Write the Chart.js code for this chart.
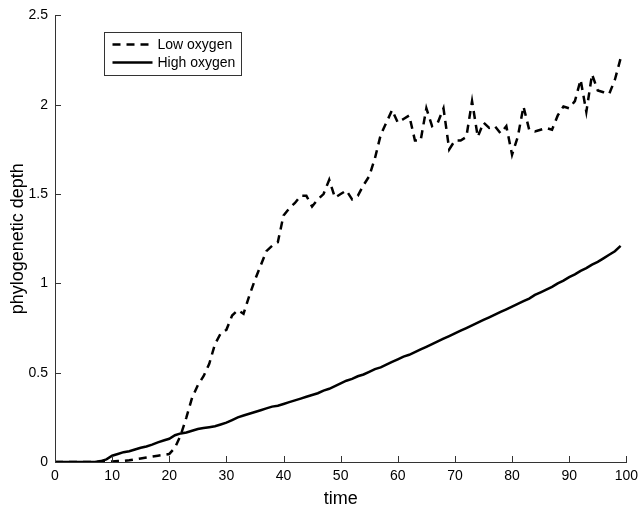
<!DOCTYPE html>
<html lang="en">
<head>
  <meta charset="UTF-8" />
  <title>Phylogenetic depth over time</title>
  <script src="https://cdn.jsdelivr.net/npm/chart.js"></script>
  <style>
    html,body{margin:0;padding:0;background:#fff;}
    #wrap{width:644px;height:510px;position:relative;}
  </style>
</head>
<body>
<div id="wrap"><canvas id="depthChart"></canvas></div>
<script>
  // time steps 0..99
  const times=[0,1,2,3,4,5,6,7,8,9,10,11,12,13,14,15,16,17,18,19,20,21,22,23,24,25,26,27,28,29,30,31,32,33,34,35,36,37,38,39,40,41,42,43,44,45,46,47,48,49,50,51,52,53,54,55,56,57,58,59,60,61,62,63,64,65,66,67,68,69,70,71,72,73,74,75,76,77,78,79,80,81,82,83,84,85,86,87,88,89,90,91,92,93,94,95,96,97,98,99];
  const lowOxygen=[0,0,0,0,0,0,0,0,0,0,
    0.003,0.005,0.006,0.01,0.015,0.02,0.025,0.03,0.035,0.04,
    0.045,0.08,0.15,0.25,0.36,0.43,0.48,0.55,0.66,0.72,
    0.74,0.82,0.85,0.83,0.93,1.02,1.1,1.18,1.21,1.23,
    1.38,1.42,1.45,1.49,1.49,1.43,1.47,1.5,1.58,1.48,
    1.5,1.52,1.47,1.49,1.55,1.6,1.7,1.83,1.9,1.97,
    1.9,1.92,1.94,1.8,1.8,1.98,1.88,1.9,1.98,1.75,
    1.8,1.8,1.82,2.02,1.82,1.9,1.87,1.88,1.84,1.88,
    1.72,1.82,1.99,1.86,1.85,1.86,1.87,1.86,1.94,1.99,
    1.98,2.02,2.14,1.96,2.17,2.08,2.07,2.06,2.14,2.26];
  const highOxygen=[0,0,0,0,0,0,0,0,0.005,0.015,
    0.035,0.045,0.055,0.06,0.07,0.08,0.087,0.097,0.11,0.12,
    0.13,0.15,0.16,0.165,0.175,0.185,0.19,0.195,0.2,0.21,
    0.22,0.235,0.25,0.26,0.27,0.28,0.29,0.3,0.31,0.315,
    0.325,0.335,0.345,0.355,0.365,0.375,0.385,0.4,0.41,0.425,
    0.44,0.455,0.465,0.48,0.49,0.505,0.52,0.53,0.545,0.56,
    0.575,0.59,0.6,0.615,0.63,0.645,0.66,0.675,0.69,0.705,
    0.72,0.735,0.75,0.765,0.78,0.795,0.81,0.825,0.84,0.855,
    0.87,0.885,0.9,0.915,0.935,0.95,0.965,0.98,1.0,1.015,
    1.035,1.05,1.07,1.085,1.105,1.12,1.14,1.16,1.18,1.21];
  const xTicks=[0,10,20,30,40,50,60,70,80,90,100];
  const yTicks=[0,0.5,1,1.5,2,2.5];
  const yTickLabels=['0','0.5','1','1.5','2','2.5'];
  const seriesNames=['Low oxygen','High oxygen'];

  const FONT='"Liberation Sans", Arial, Helvetica, sans-serif';
  const DASH=[8,6];

  // matlab-style inward tick marks
  const inwardTicks={
    id:'inwardTicks',
    afterDatasetsDraw(chart){
      const {ctx,chartArea:a,scales:{x,y}}=chart;
      ctx.save();ctx.strokeStyle='#333';ctx.lineWidth=1;ctx.beginPath();
      xTicks.forEach(v=>{const px=Math.round(x.getPixelForValue(v))+.5;ctx.moveTo(px,a.bottom);ctx.lineTo(px,a.bottom-6);});
      yTicks.forEach(v=>{const py=Math.round(y.getPixelForValue(v))+.5;ctx.moveTo(a.left,py);ctx.lineTo(a.left+6,py);});
      ctx.stroke();ctx.restore();
    }
  };

  // legend box inside the axes, top-left
  const boxLegend={
    id:'boxLegend',
    afterDraw(chart){
      const {ctx}=chart;
      const bx=104.5,by=32.5,bw=137,bh=43;
      ctx.save();
      ctx.fillStyle='#fff';ctx.fillRect(bx,by,bw,bh);
      ctx.strokeStyle='#333';ctx.lineWidth=1;ctx.strokeRect(bx,by,bw,bh);
      ctx.font='14px '+FONT;ctx.textBaseline='middle';
      chart.data.datasets.forEach((ds,i)=>{
        const ly=by+12+i*18;
        ctx.strokeStyle='#000';ctx.lineWidth=2.5;ctx.setLineDash(ds.borderDash||[]);
        ctx.beginPath();ctx.moveTo(bx+8,ly);ctx.lineTo(bx+48,ly);ctx.stroke();
        ctx.setLineDash([]);ctx.fillStyle='#000';ctx.fillText(ds.label,bx+53,ly+1);
      });
      ctx.restore();
    }
  };

  new Chart(document.getElementById('depthChart'),{
    type:'line',
    data:{datasets:[
      {label:seriesNames[0],data:times.map((t,i)=>({x:t,y:lowOxygen[i]})),borderColor:'#000',borderWidth:2.5,borderDash:DASH,pointRadius:0,tension:0,fill:false},
      {label:seriesNames[1],data:times.map((t,i)=>({x:t,y:highOxygen[i]})),borderColor:'#000',borderWidth:2.5,pointRadius:0,tension:0,fill:false}
    ]},
    options:{
      responsive:true,maintainAspectRatio:false,animation:false,
      layout:{padding:{top:10,right:17,left:0,bottom:0}},
      plugins:{legend:{display:false},tooltip:{enabled:false}},
      scales:{
        x:{type:'linear',min:0,max:100,
          afterBuildTicks(s){s.ticks=xTicks.map(v=>({value:v}));},
          afterFit(s){s.height=48;},
          grid:{display:true,drawOnChartArea:false,drawTicks:false},
          border:{color:'#333',width:1},
          ticks:{padding:6,color:'#000',font:{family:FONT,size:14},maxRotation:0},
          title:{display:true,text:'time',color:'#000',font:{family:FONT,size:18},padding:{top:0,bottom:0}}},
        y:{min:0,max:2.5,
          afterBuildTicks(s){s.ticks=yTicks.map(v=>({value:v}));},
          afterFit(s){s.width=55;},
          grid:{display:true,drawOnChartArea:false,drawTicks:false},
          border:{color:'#333',width:1},
          ticks:{padding:7,color:'#000',font:{family:FONT,size:14},
            callback:(v)=>yTickLabels[yTicks.indexOf(v)]},
          title:{display:true,text:'phylogenetic depth',color:'#000',font:{family:FONT,size:18},padding:{top:7,bottom:0}}}
      }
    },
    plugins:[inwardTicks,boxLegend]
  });
</script>
</body>
</html>
